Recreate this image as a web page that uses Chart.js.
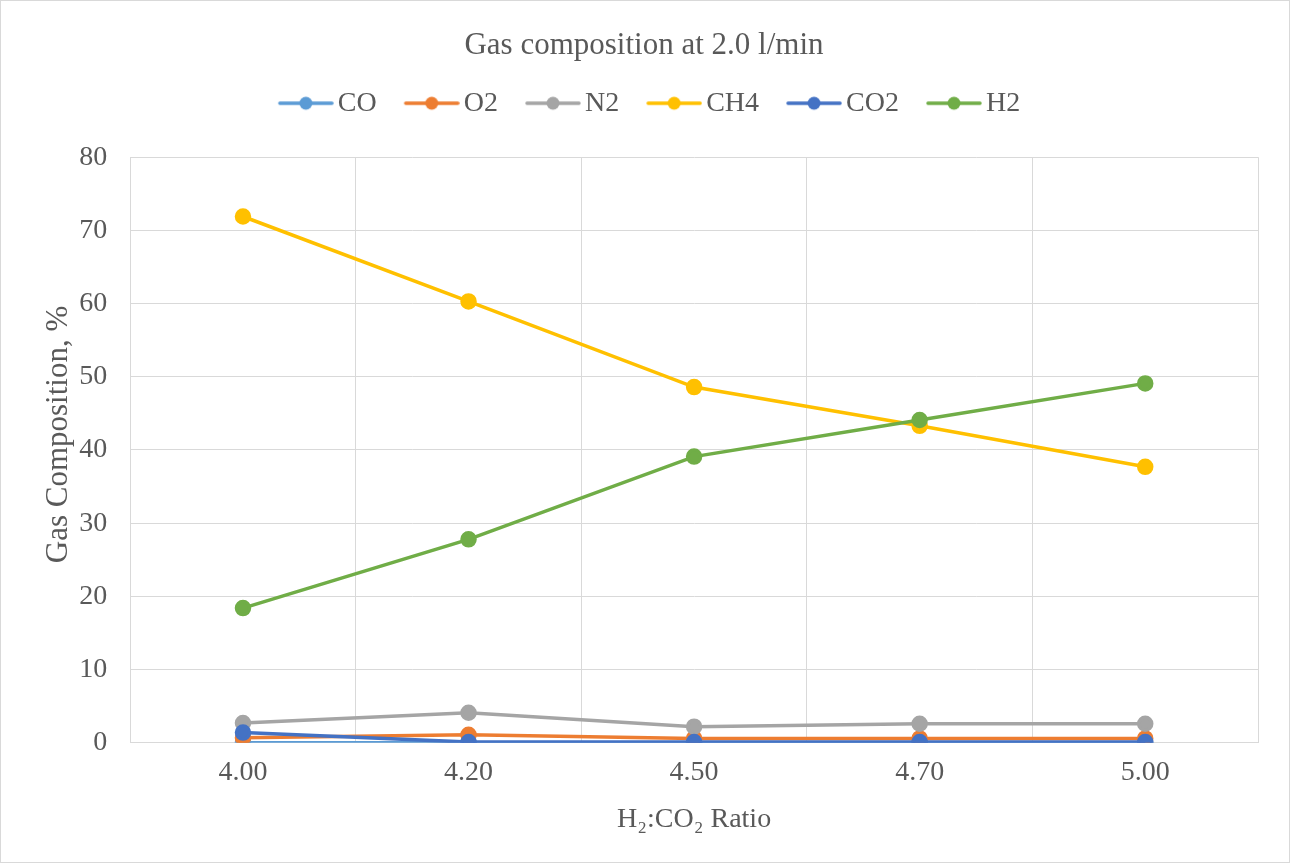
<!DOCTYPE html>
<html>
<head>
<meta charset="utf-8">
<script src="https://cdn.jsdelivr.net/npm/chart.js@4.4.1/dist/chart.umd.min.js"></script>
<style>
  html, body { margin: 0; padding: 0; background: #fff; }
  #wrap { position: relative; width: 1290px; height: 863px; box-sizing: border-box; border: 1px solid #d9d9d9; }
</style>
</head>
<body>
<div id="wrap"><canvas id="chart"></canvas></div>
<script>
const ratios = ['4.00', '4.20', '4.50', '4.70', '5.00']
const co = [0, 0, 0, 0, 0]
const o2 = [0.7, 1.1, 0.6, 0.6, 0.6]
const n2 = [2.7, 4.1, 2.2, 2.6, 2.6]
const ch4 = [71.9, 60.3, 48.6, 43.3, 37.7]
const co2 = [1.4, 0.1, 0.1, 0.1, 0.1]
const h2 = [18.4, 27.8, 39.1, 44.1, 49.1]

const serif = "'Liberation Serif', 'Times New Roman', serif"
const textColor = '#595959'
const gridColor = '#d9d9d9'
const fontSize = 28

// line-with-dot marker for the legend, drawn in the right part of the image
// so the blank left part acts as the gap after the previous label
function legendMarker(color) {
  const c = document.createElement('canvas')
  c.width = 76
  c.height = 16
  const g = c.getContext('2d')
  g.strokeStyle = color
  g.lineWidth = 3.5
  g.lineCap = 'round'
  g.beginPath()
  g.moveTo(22, 8)
  g.lineTo(74, 8)
  g.stroke()
  g.fillStyle = color
  g.beginPath()
  g.arc(48, 8, 6.5, 0, Math.PI * 2)
  g.fill()
  return c
}

const series = [
  { label: 'CO', data: co, color: '#5b9bd5' },
  { label: 'O2', data: o2, color: '#ed7d31' },
  { label: 'N2', data: n2, color: '#a5a5a5' },
  { label: 'CH4', data: ch4, color: '#ffc000' },
  { label: 'CO2', data: co2, color: '#4472c4' },
  { label: 'H2', data: h2, color: '#70ad47' },
]

const datasets = series.map((s, i) => ({
  label: s.label,
  data: s.data,
  borderColor: s.color,
  backgroundColor: s.color,
  pointBackgroundColor: s.color,
  pointBorderColor: s.color,
  borderWidth: 3.5,
  pointRadius: 6.5,
  pointHoverRadius: 6.5,
  marker: legendMarker(s.color),
  // later series sit on top
  order: series.length - i,
}))

new Chart(document.getElementById('chart'), {
  type: 'line',
  data: { labels: ratios, datasets },
  options: {
    responsive: true,
    maintainAspectRatio: false,
    animation: false,
    layout: { padding: { left: 29, right: 31, top: 10, bottom: 26 } },
    plugins: {
      tooltip: { enabled: false },
      title: {
        display: true,
        text: 'Gas composition at 2.0 l/min',
        color: textColor,
        font: { family: serif, size: 31, weight: 'normal' },
        padding: { top: 16, bottom: 8 },
      },
      // blank spacer between legend and plot
      subtitle: {
        display: true,
        text: ' ',
        weight: 500,
        font: { size: 25 },
        padding: 0,
      },
      legend: {
        position: 'top',
        labels: {
          color: textColor,
          font: { family: serif, size: fontSize },
          usePointStyle: true,
          pointStyleWidth: 56,
          padding: 17,
          sort: (a, b) => a.datasetIndex - b.datasetIndex,
          generateLabels: chart => chart.data.datasets.map((ds, i) => ({
            text: ds.label,
            fillStyle: ds.borderColor,
            strokeStyle: ds.borderColor,
            fontColor: textColor,
            pointStyle: ds.marker,
            lineWidth: 0,
            hidden: false,
            datasetIndex: i,
          })),
        },
      },
    },
    scales: {
      x: {
        offset: true,
        grid: { offset: true, color: gridColor, drawTicks: false },
        border: { color: gridColor },
        ticks: { color: textColor, font: { family: serif, size: fontSize }, padding: 13 },
        title: {
          display: true,
          text: 'H₂:CO₂ Ratio',
          color: textColor,
          font: { family: serif, size: fontSize },
          padding: { top: 0, bottom: 0 },
        },
      },
      y: {
        min: 0,
        max: 80,
        grid: { color: gridColor, drawTicks: false },
        border: { color: gridColor },
        ticks: { stepSize: 10, color: textColor, font: { family: serif, size: fontSize }, padding: 23 },
        title: {
          display: true,
          text: '    Gas Composition, %',
          color: textColor,
          font: { family: serif, size: 31 },
          padding: { top: 10, bottom: -21 },
        },
      },
    },
  },
})
</script>
</body>
</html>
